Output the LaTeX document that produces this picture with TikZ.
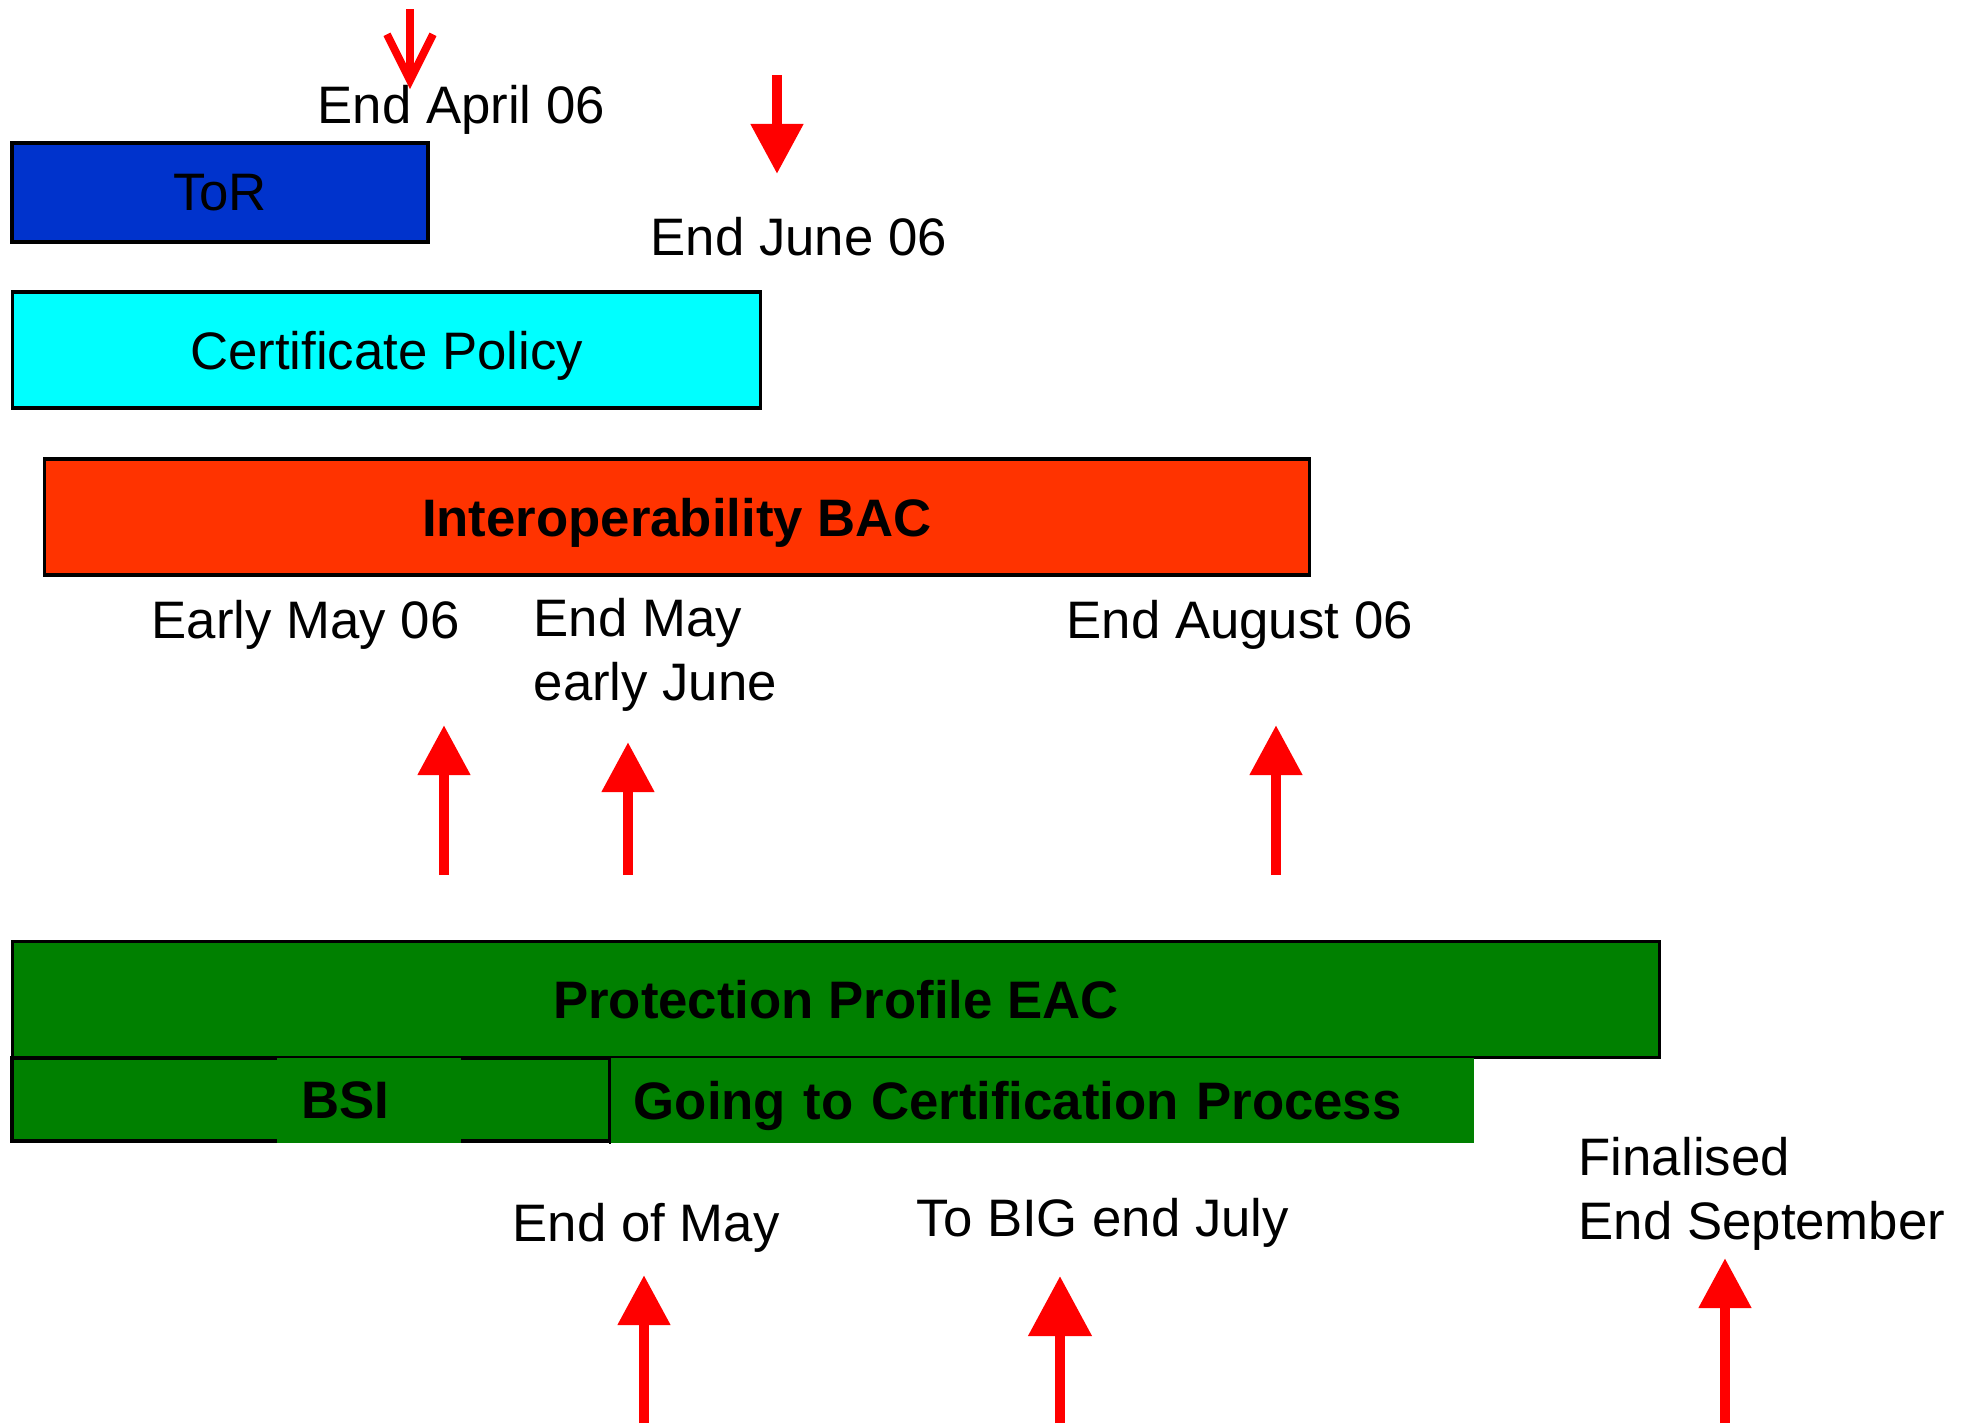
\documentclass[tikz,border=0pt]{standalone}
\usepackage{fontspec}
\setmainfont{Liberation Sans}
\usepackage{tikz}
\usetikzlibrary{arrows.meta}
\definecolor{TorBlue}{RGB}{0,51,204}
\definecolor{PolicyCyan}{RGB}{0,255,255}
\definecolor{BacOrange}{RGB}{255,51,0}
\definecolor{EacGreen}{RGB}{0,128,0}
\definecolor{MarkRed}{RGB}{255,0,0}

\begin{document}
\begin{tikzpicture}[x=0.01cm, y=-0.01cm,
	font=\fontsize{15}{18}\selectfont,
	bar/.style={draw=black, line width=1pt, inner sep=0pt, text depth=0pt},
	lbl/.style={anchor=base west, inner sep=0pt, align=left},
	bigarrow/.style={MarkRed, line width=3.1pt, -{Triangle[length=5mm,width=5mm]}}]
	\useasboundingbox (0,0) rectangle (1968,1423);
	\node[bar, fill=TorBlue, minimum width=4.155cm, minimum height=0.99cm] (tor) at (220,192.5) {ToR};
	\node[bar, fill=PolicyCyan, minimum width=7.48cm, minimum height=1.16cm] (policy) at (386.5,350) {Certificate Policy};
	\node[bar, fill=BacOrange, minimum width=12.64cm, minimum height=1.16cm, font=\fontsize{15}{18}\selectfont\bfseries] (bac) at (677,517) {Interoperability BAC};
	\node[bar, fill=EacGreen, minimum width=16.465cm, minimum height=1.16cm, font=\fontsize{15}{18}\selectfont\bfseries] (eac) at (836,999.5) {Protection Profile EAC};
	\node[bar, fill=EacGreen, minimum width=5.975cm, minimum height=0.83cm] (bsiRow) at (311,1099.5) {};
	\node[fill=EacGreen, inner ysep=0pt, inner xsep=0.24cm, text width=1.35cm, text depth=0pt, minimum height=0.85cm, font=\fontsize{15}{18}\selectfont\bfseries] (bsi) at (369,1100.5) {BSI};
	\node[fill=EacGreen, inner ysep=0pt, inner xsep=0.23cm, text width=8.17cm, text depth=0pt, minimum height=0.85cm, font=\fontsize{15}{18}\selectfont\bfseries] (cert) at (1042.5,1100.5) {Going to Certification Process};
	\draw[line width=0.6pt] (cert.north west) -- (cert.south west);

	\node[lbl] (aprilLbl) at (317,123) {End April 06};
	\node[lbl] (juneLbl) at (650,255) {End June 06};
	\node[lbl] (earlyMayLbl) at (151,638) {Early May 06};
	\node[lbl] (endMayLbl) at (533,700) {End May\\early June};
	\node[lbl] (augustLbl) at (1066,638) {End August 06};
	\node[lbl] (ofMayLbl) at (512,1241) {End of May};
	\node[lbl] (bigLbl) at (916,1236) {To BIG end July};
	\node[lbl] (septLbl) at (1578,1239) {Finalised\\End September};

	\coordinate (aprilTop) at (410,9);
	\coordinate (aprilTip) at (410,89);
	\coordinate (juneTop) at (777,75);
	\coordinate (juneTip) at (777,174);
	\draw[MarkRed, line width=2.2pt, -{Straight Barb[length=4.6mm,width=4.6mm]}] (aprilTop) -- (aprilTip);
	\draw[bigarrow] (juneTop) -- (juneTip);

	\foreach \name/\x/\tip in {earlyMay/444/725, endMay/628/742, august/1276/725}{
		\coordinate (\name Foot) at (\x,875);
		\coordinate (\name Tip) at (\x,\tip);
		\draw[bigarrow] (\name Foot) -- (\name Tip);
	}
	\foreach \name/\x/\tip in {ofMay/644/1275, sept/1725/1258}{
		\coordinate (\name Foot) at (\x,1423);
		\coordinate (\name Tip) at (\x,\tip);
		\draw[bigarrow] (\name Foot) -- (\name Tip);
	}
	\coordinate (bigFoot) at (1060,1423);
	\coordinate (bigTip) at (1060,1276);
	\draw[bigarrow, -{Triangle[length=6mm,width=6.1mm]}] (bigFoot) -- (bigTip);
\end{tikzpicture}
\end{document}
